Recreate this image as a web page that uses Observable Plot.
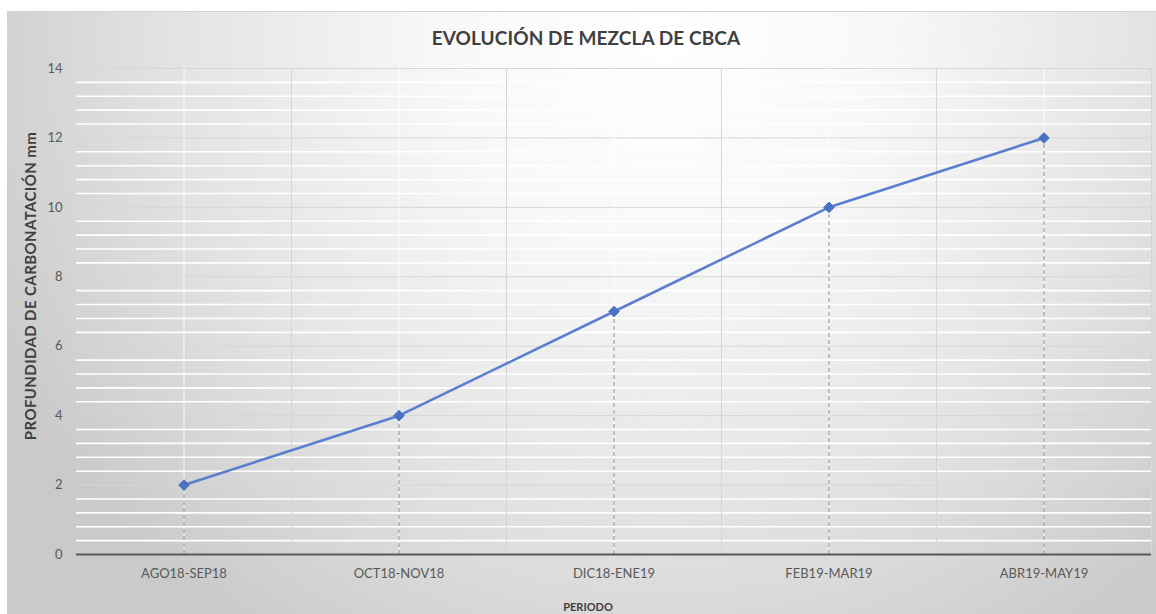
<!DOCTYPE html>
<html>
<head>
<meta charset="utf-8">
<script src="https://cdn.jsdelivr.net/npm/d3@7"></script>
<script src="https://cdn.jsdelivr.net/npm/@observablehq/plot@0.6"></script>
<style>
  html, body { margin: 0; padding: 0; background: #ffffff; width: 1156px; height: 614px; overflow: hidden; }
  #wrap {
    position: absolute; left: 7px; top: 11px; width: 1149px; height: 603px;
    border-top: 1px solid #d2d2d2;
    background: radial-gradient(ellipse 64% 120% at 57% 4%, #ffffff 0%, #f8f8f8 30%, #e4e4e4 65%, #cacaca 100%);
    font-family: Lato, "Open Sans", sans-serif;
  }
  #title {
    position: absolute; left: 0; width: 1158px; top: 14px; text-align: center;
    font-size: 19px; font-weight: 700; color: #404040; letter-spacing: 0.1px;
  }
  #ylab {
    position: absolute; left: 23px; top: 274px; transform: translate(-50%, -50%) rotate(-90deg);
    white-space: nowrap; font-size: 15px; font-weight: 700; color: #404040; letter-spacing: 0.4px;
  }
  #xlab {
    position: absolute; left: 0; width: 1162px; top: 588px; text-align: center;
    font-size: 11px; font-weight: 700; color: #404040;
  }
  #chart { position: absolute; left: 0; top: 0; }
</style>
</head>
<body>
<div id="wrap">
  <div id="chart"></div>
  <div id="title">EVOLUCIÓN DE MEZCLA DE CBCA</div>
  <div id="ylab">PROFUNDIDAD DE CARBONATACIÓN mm</div>
  <div id="xlab">PERIODO</div>
</div>
<script>
const periods = ["AGO18-SEP18", "OCT18-NOV18", "DIC18-ENE19", "FEB19-MAR19", "ABR19-MAY19"];
const depth = [2, 4, 7, 10, 12];
const yTicks = [0, 2, 4, 6, 8, 10, 12, 14];

const data = periods.map((p, i) => ({i, period: p, value: depth[i]}));
const idx = periods.map((p, i) => i);
const bounds = periods.map((p, i) => i + 0.5);
const minor = d3.range(0, 14, 0.4).filter(v => Math.abs(v / 2 - Math.round(v / 2)) > 1e-6);

const chart = Plot.plot({
  width: 1149,
  height: 603,
  marginLeft: 69,
  marginRight: 5,
  marginTop: 56,
  marginBottom: 61,
  style: {background: "transparent", fontFamily: "Lato, 'Open Sans', sans-serif", overflow: "visible"},
  x: {domain: [-0.5, periods.length - 0.5], axis: null},
  y: {domain: [0, 14], axis: null},
  marks: [
    Plot.ruleY(minor, {stroke: "#ffffff", strokeWidth: 1.6}),
    Plot.ruleY(yTicks, {stroke: "#d6d6d6", strokeWidth: 1}),
    Plot.ruleX(bounds, {stroke: "#d6d6d6", strokeWidth: 1}),
    Plot.ruleX(idx, {stroke: "#ffffff", strokeWidth: 1, strokeOpacity: 0.85}),
    Plot.ruleX(data, {x: "i", y1: 0, y2: "value", stroke: "#8c8c8c", strokeWidth: 1, strokeDasharray: "4,3"}),
    Plot.ruleY([0], {stroke: "#595959", strokeWidth: 2}),
    Plot.axisY({ticks: yTicks, tickSize: 0, tickPadding: 14, fontSize: 13, color: "#595959", label: null}),
    Plot.axisX({ticks: idx, tickFormat: i => periods[i], tickSize: 0, tickPadding: 14, fontSize: 13, color: "#595959", label: null}),
    Plot.line(data, {x: "i", y: "value", stroke: "#5a7fce", strokeWidth: 2.6}),
    Plot.dot(data, {x: "i", y: "value", symbol: "diamond2", r: 4.8, fill: "#4a72c4", stroke: "#4a72c4", strokeWidth: 1})
  ]
});
document.getElementById("chart").appendChild(chart);
</script>
</body>
</html>
